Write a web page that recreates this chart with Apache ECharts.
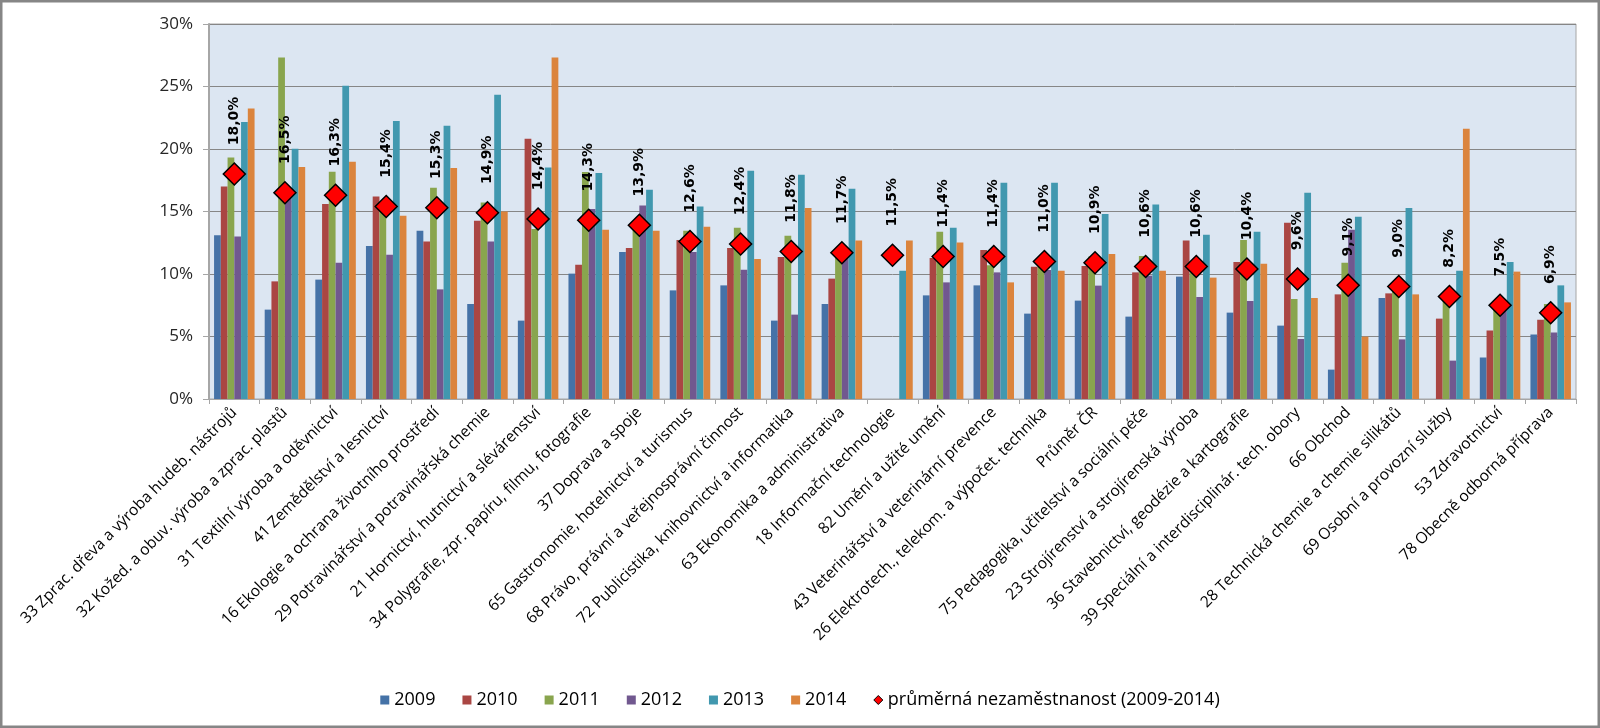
<!DOCTYPE html>
<html>
<head>
<meta charset="utf-8">
<script src="https://cdn.jsdelivr.net/npm/echarts@6/dist/echarts.min.js"></script>
<style>
html,body{margin:0;padding:0;background:#fff;}
#chart{width:1600px;height:728px;}
</style>
</head>
<body>
<div id="chart"></div>
<script>
var categories = [
 "33 Zprac. dřeva a výroba hudeb. nástrojů",
 "32 Kožed. a obuv. výroba a zprac. plastů",
 "31 Textilní výroba a oděvnictví",
 "41 Zemědělství a lesnictví",
 "16 Ekologie a ochrana životního prostředí",
 "29 Potravinářství a potravinářská chemie",
 "21 Hornictví, hutnictví a slévárenství",
 "34 Polygrafie, zpr. papíru, filmu, fotografie",
 "37 Doprava a spoje",
 "65 Gastronomie, hotelnictví a turismus",
 "68 Právo, právní a veřejnosprávní činnost",
 "72 Publicistika, knihovnictví a informatika",
 "63 Ekonomika a administrativa",
 "18 Informační technologie",
 "82 Umění a užité umění",
 "43 Veterinářství a veterinární prevence",
 "26 Elektrotech., telekom. a výpočet. technika",
 "Průměr ČR",
 "75 Pedagogika, učitelství a sociální péče",
 "23 Strojírenství a strojírenská výroba",
 "36 Stavebnictví, geodézie a kartografie",
 "39 Speciální a interdisciplinár. tech. obory",
 "66 Obchod",
 "28 Technická chemie a chemie silikátů",
 "69 Osobní a provozní služby",
 "53 Zdravotnictví",
 "78 Obecně odborná příprava"
];
var seriesNames = ["2009","2010","2011","2012","2013","2014"];
var y2009 = [13.1,7.15,9.55,12.24,13.47,7.6,6.27,10.03,11.76,8.69,9.09,6.27,7.6,null,8.29,9.09,6.83,7.87,6.59,9.79,6.91,5.87,2.35,8.08,null,3.32,5.16];
var y2010 = [17.0,9.41,15.6,16.21,12.61,14.27,20.83,10.75,12.08,12.72,12.08,11.36,9.63,null,11.28,11.92,10.59,10.64,10.13,12.69,10.96,14.11,8.37,8.45,6.43,5.48,6.34];
var y2011 = [19.33,27.33,18.19,15.5,16.91,15.73,13.6,18.16,13.85,13.47,13.71,13.07,11.9,null,13.39,10.7,10.7,11.4,11.44,10.1,12.72,8.0,10.91,9.05,8.08,7.7,7.6];
var y2012 = [13.0,16.5,10.9,11.55,8.77,12.61,null,15.2,15.49,11.76,10.35,6.75,11.55,null,9.33,10.13,10.32,9.07,9.87,8.16,7.84,4.8,13.55,4.77,3.07,7.2,5.32];
var y2013 = [22.16,20.03,25.07,22.24,21.87,24.35,18.53,18.08,16.75,15.41,18.27,17.95,16.83,10.27,13.71,17.31,17.31,14.8,15.57,13.15,13.39,16.51,14.59,15.28,10.27,10.96,9.09];
var y2014 = [23.25,18.56,18.99,14.67,18.48,15.01,27.33,13.55,13.47,13.79,11.2,15.28,12.69,12.69,12.53,9.33,10.27,11.6,10.27,9.71,10.83,8.08,4.99,8.37,21.63,10.19,7.73];
var avgName = "průměrná nezaměstnanost (2009-2014)";
var avg = [18.0,16.5,16.3,15.4,15.3,14.9,14.4,14.3,13.9,12.6,12.4,11.8,11.7,11.5,11.4,11.4,11.0,10.9,10.6,10.6,10.4,9.6,9.1,9.0,8.2,7.5,6.9];
var yTicks = [0,5,10,15,20,25,30];

var colors = ["#4572A7","#AA4643","#89A54E","#71588F","#4198AF","#DB843D"];
var barData = [y2009,y2010,y2011,y2012,y2013,y2014];

var chart = echarts.init(document.getElementById('chart'), null, {renderer:'canvas'});
var series = barData.map(function(d,i){
  return {
    name: seriesNames[i], type:'bar', data:d,
    barGap:'0%', barCategoryGap:'20%',
    itemStyle:{color:colors[i]}
  };
});
series.push({
  name: avgName, type:'scatter', data: avg, z: 10,
  symbol:'diamond', symbolSize:[22,22],
  itemStyle:{color:'#FF0000', borderColor:'#000', borderWidth:1.5, opacity:1},
  label:{
    show:true, position:'top', distance:14, rotate:90, offset:[3,0],
    align:'left', verticalAlign:'middle',
    fontFamily:'DejaVu Sans', fontWeight:'bold', fontSize:14, color:'#000',
    formatter:function(p){ return p.value.toFixed(1).replace('.',',') + '%'; }
  }
});

chart.setOption({
  animation:false,
  backgroundColor:'#fff',
  grid:{left:209, right:24, top:24, bottom:329, show:true, backgroundColor:'#dce6f2', borderColor:'#a6a6a6', borderWidth:1},
  graphic:[{type:'rect', shape:{x:1.25,y:1.25,width:1597.5,height:725.5}, style:{fill:'none', stroke:'#868686', lineWidth:2.5}, silent:true}],
  legend:{
    top:686, left:'center', itemWidth:9, itemHeight:9, itemGap:27,
    textStyle:{fontFamily:'Open Sans', fontSize:18, color:'#000'},
    data: seriesNames.map(function(n){return {name:n, icon:'rect'};}).concat([{name:avgName, icon:'diamond', itemStyle:{color:'#FF0000', borderColor:'#000', borderWidth:1}}])
  },
  xAxis:{
    type:'category', data:categories,
    axisLine:{lineStyle:{color:'#a6a6a6', width:1}},
    axisTick:{show:true, length:5, lineStyle:{color:'#a6a6a6'}},
    axisLabel:{interval:0, rotate:45, margin:11, fontFamily:'Open Sans', fontSize:15.6, color:'#000'}
  },
  yAxis:{
    type:'value', min:yTicks[0], max:yTicks[yTicks.length-1], interval:5,
    axisLine:{show:true, lineStyle:{color:'#a6a6a6', width:2}},
    axisTick:{show:true, length:6, lineStyle:{color:'#a6a6a6'}},
    splitLine:{lineStyle:{color:'#868686', width:1}},
    axisLabel:{margin:16, fontFamily:'Open Sans', fontSize:17, color:'#262626', formatter:'{value}%'}
  },
  series:series
});
</script>
</body>
</html>
